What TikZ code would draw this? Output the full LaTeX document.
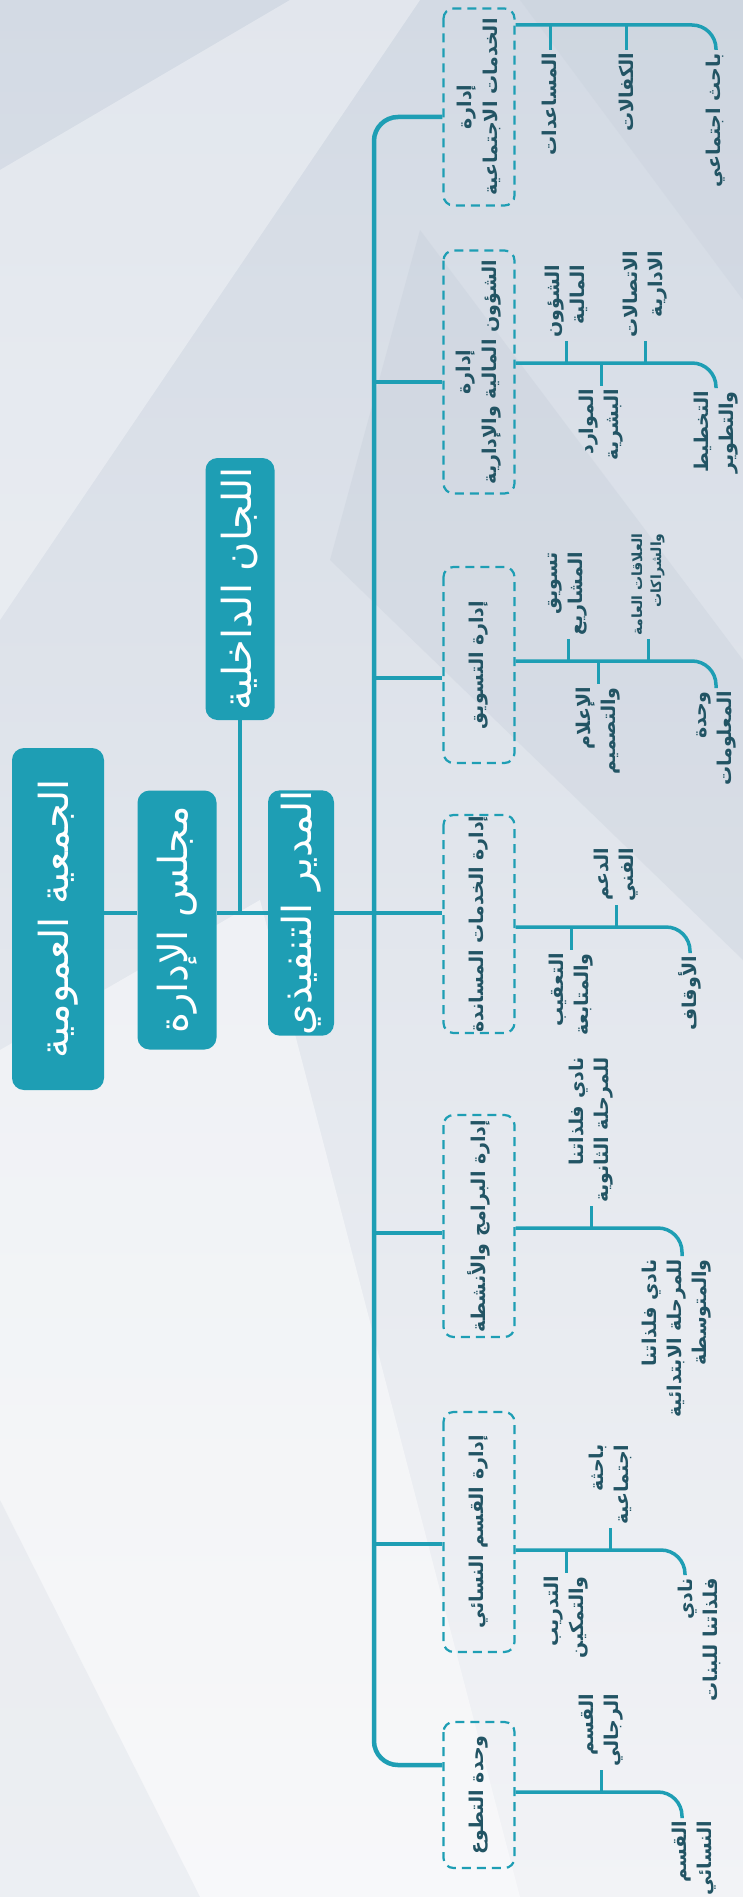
\documentclass[tikz,border=0pt]{standalone}
\usepackage{fontspec}
\TeXXeTstate=1
\newfontfamily\arabicfont[Script=Arabic]{DejaVu Sans}
\usetikzlibrary{calc}

\definecolor{orgteal}{RGB}{30,158,180}
\definecolor{orgtext}{RGB}{34,84,100}
\definecolor{bgtop}{RGB}{211,218,228}
\definecolor{bgbot}{RGB}{242,243,246}
\definecolor{bgdark}{RGB}{190,199,212}

\newcommand{\ar}[1]{\beginR #1\endR}

\tikzset{
  rootbox/.style={fill=orgteal, rounded corners=12pt, rotate=90, text=white, inner sep=0pt,
    font=\arabicfont\fontsize{40}{46}\selectfont},
  deptbox/.style={draw=orgteal, dash pattern=on 9pt off 6pt, line width=2.2pt, rounded corners=10pt,
    rotate=90, minimum height=71pt, text=orgtext, align=center, inner sep=0pt,
    font=\arabicfont\bfseries\fontsize{19}{26}\selectfont},
  unitlabel/.style={rotate=90, text=orgtext, align=right, inner xsep=3pt, inner ysep=1pt,
    font=\arabicfont\bfseries\fontsize{19}{25}\selectfont},
  smalllabel/.style={unitlabel, font=\arabicfont\bfseries\fontsize{14}{19}\selectfont},
  link/.style={draw=orgteal, line width=3.2pt},
  spine/.style={draw=orgteal, line width=4.5pt, rounded corners=24pt},
  trunk/.style={draw=orgteal, line width=3.5pt, rounded corners=24pt},
  twig/.style={draw=orgteal, line width=3pt},
}

\begin{document}
\begin{tikzpicture}[x=1pt, y=-1pt]
  % Background
  \useasboundingbox (0,0) rectangle (743,1897);
  \shade[top color=bgtop, bottom color=bgbot] (0,0) rectangle (743,1897);
  \fill[white, opacity=0.35] (0,170) -- (290,0) -- (420,0) -- (0,620) -- cycle;
  \fill[bgdark, opacity=0.25] (420,230) -- (743,660) -- (743,960) -- (330,560) -- cycle;
  \fill[bgdark, opacity=0.2] (520,0) -- (743,0) -- (743,300) -- cycle;
  \fill[white, opacity=0.45] (0,1050) -- (260,900) -- (520,1897) -- (0,1897) -- cycle;
  \fill[bgdark, opacity=0.18] (0,1500) -- (200,1897) -- (0,1897) -- cycle;

  % Top of the chart
  \node[rootbox, minimum width=342pt, minimum height=92pt] (assembly) at (58,919) {\ar{الجمعية العمومية}};
  \node[rootbox, minimum width=259pt, minimum height=79pt] (board) at (177,920) {\ar{مجلس الإدارة}};
  \node[rootbox, minimum width=262pt, minimum height=69pt] (committees) at (240,589) {\ar{اللجان الداخلية}};
  \node[rootbox, minimum width=233pt, minimum height=66pt] (director) at (301,913) {\ar{المدير التنفيذي}};

  % Spine joints
  \coordinate (j1) at (374,117);
  \coordinate (j2) at (374,382);
  \coordinate (j3) at (374,678);
  \coordinate (hub) at (374,913);
  \coordinate (j5) at (374,1233);
  \coordinate (j6) at (374,1544);
  \coordinate (j7) at (374,1765);

  % Departments
  \node[deptbox, minimum width=197pt] (social) at (479,107) {\ar{إدارة}\\\ar{الخدمات الاجتماعية}};
  \node[deptbox, minimum width=243pt] (finance) at (479,372) {\ar{إدارة}\\\ar{الشؤون المالية والإدارية}};
  \node[deptbox, minimum width=196pt] (marketing) at (479,665) {\ar{إدارة التسويق}};
  \node[deptbox, minimum width=218pt] (support) at (479,924) {\ar{إدارة الخدمات المساندة}};
  \node[deptbox, minimum width=222pt] (programs) at (479,1226) {\ar{إدارة البرامج والأنشطة}};
  \node[deptbox, minimum width=240pt] (women) at (479,1532) {\ar{إدارة القسم النسائي}};
  \node[deptbox, minimum width=146pt] (volunteer) at (479,1795) {\ar{وحدة التطوع}};

  % Links from the top
  \draw[link] (assembly.south |- hub) -- (board.north |- hub);
  \draw[link] (board.south |- hub) -- (director.north |- hub);
  \draw[link] (committees.west) -- (committees.west |- hub);
  \draw[link] (director.south |- hub) -- (hub) -- (hub -| support.north);
  \draw[spine] (j1 -| social.north) -- (j1) -- (j7) -- (j7 -| volunteer.north);
  \draw[link] (j2) -- (j2 -| finance.north);
  \draw[link] (j3) -- (j3 -| marketing.north);
  \draw[link] (j5) -- (j5 -| programs.north);
  \draw[link] (j6) -- (j6 -| women.north);

  % Social services
  \coordinate (s0) at (716,25);
  \node[unitlabel, anchor=east] (aid) at (550,50) {\ar{المساعدات}};
  \node[unitlabel, anchor=east] (sponsor) at (626,50) {\ar{الكفالات}};
  \node[unitlabel, anchor=east] (worker) at (716,50) {\ar{باحث اجتماعي}};
  \draw[trunk] (social.south |- s0) -- (s0) -- (worker.east);
  \draw[twig] (aid.east |- s0) -- (aid.east);
  \draw[twig] (sponsor.east |- s0) -- (sponsor.east);

  % Finance and administration
  \coordinate (f0) at (716,363);
  \node[unitlabel, anchor=west] (fin-a) at (566,341) {\ar{الشؤون}\\\ar{المالية}};
  \node[unitlabel, anchor=west] (fin-b) at (645,341) {\ar{الاتصالات}\\\ar{الادارية}};
  \node[unitlabel, anchor=east] (fin-c) at (601,386) {\ar{الموارد}\\\ar{البشرية}};
  \node[unitlabel, anchor=east] (fin-d) at (716,388) {\ar{التخطيط}\\\ar{والتطوير}};
  \draw[trunk] (finance.south |- f0) -- (f0) -- (fin-d.east);
  \draw[twig] (fin-a.west |- f0) -- (fin-a.west);
  \draw[twig] (fin-b.west |- f0) -- (fin-b.west);
  \draw[twig] (fin-c.east |- f0) -- (fin-c.east);

  % Marketing
  \coordinate (m0) at (716,661);
  \node[unitlabel, anchor=west] (mk-a) at (568,639) {\ar{تسويق}\\\ar{المشاريع}};
  \node[smalllabel, anchor=west] (mk-b) at (648,639) {\ar{العلاقات العامة}\\\ar{والشراكات}};
  \node[unitlabel, anchor=east] (mk-c) at (598,684) {\ar{الإعلام}\\\ar{والتصميم}};
  \node[unitlabel, anchor=east] (mk-d) at (716,688) {\ar{وحدة}\\\ar{المعلومات}};
  \draw[trunk] (marketing.south |- m0) -- (m0) -- (mk-d.east);
  \draw[twig] (mk-a.west |- m0) -- (mk-a.west);
  \draw[twig] (mk-b.west |- m0) -- (mk-b.west);
  \draw[twig] (mk-c.east |- m0) -- (mk-c.east);

  % Support services
  \coordinate (p0) at (690,927);
  \node[unitlabel, anchor=west] (sp-a) at (616,905) {\ar{الدعم}\\\ar{الفني}};
  \node[unitlabel, anchor=east] (sp-b) at (571,950) {\ar{التعقيب}\\\ar{والمتابعة}};
  \node[unitlabel, anchor=east] (sp-c) at (690,953) {\ar{الأوقاف}};
  \draw[trunk] (support.south |- p0) -- (p0) -- (sp-c.east);
  \draw[twig] (sp-a.west |- p0) -- (sp-a.west);
  \draw[twig] (sp-b.east |- p0) -- (sp-b.east);

  % Programs and activities
  \coordinate (g0) at (682,1228);
  \node[unitlabel, anchor=west] (pr-a) at (591,1206) {\ar{نادي فلذاتنا}\\\ar{للمرحلة الثانوية}};
  \node[unitlabel, anchor=east] (pr-b) at (677,1256) {\ar{نادي فلذاتنا}\\\ar{للمرحلة الابتدائية}\\\ar{والمتوسطة}};
  \draw[trunk] (programs.south |- g0) -- (g0) -- (g0 |- pr-b.east);
  \draw[twig] (pr-a.west |- g0) -- (pr-a.west);

  % Women's section
  \coordinate (w0) at (685,1550);
  \node[unitlabel, anchor=west] (wm-a) at (610,1528) {\ar{باحثة}\\\ar{اجتماعية}};
  \node[unitlabel, anchor=east] (wm-b) at (566,1573) {\ar{التدريب}\\\ar{والتمكين}};
  \node[unitlabel, anchor=east] (wm-c) at (699,1575) {\ar{نادي}\\\ar{فلذاتنا للبنات}};
  \draw[trunk] (women.south |- w0) -- (w0) -- (w0 |- wm-c.east);
  \draw[twig] (wm-a.west |- w0) -- (wm-a.west);
  \draw[twig] (wm-b.east |- w0) -- (wm-b.east);

  % Volunteering
  \coordinate (v0) at (682,1792);
  \node[unitlabel, anchor=west] (vo-a) at (601,1770) {\ar{القسم}\\\ar{الرجالي}};
  \node[unitlabel, anchor=east] (vo-b) at (694,1818) {\ar{القسم}\\\ar{النسائي}};
  \draw[trunk] (volunteer.south |- v0) -- (v0) -- (v0 |- vo-b.east);
  \draw[twig] (vo-a.west |- v0) -- (vo-a.west);
\end{tikzpicture}
\end{document}
